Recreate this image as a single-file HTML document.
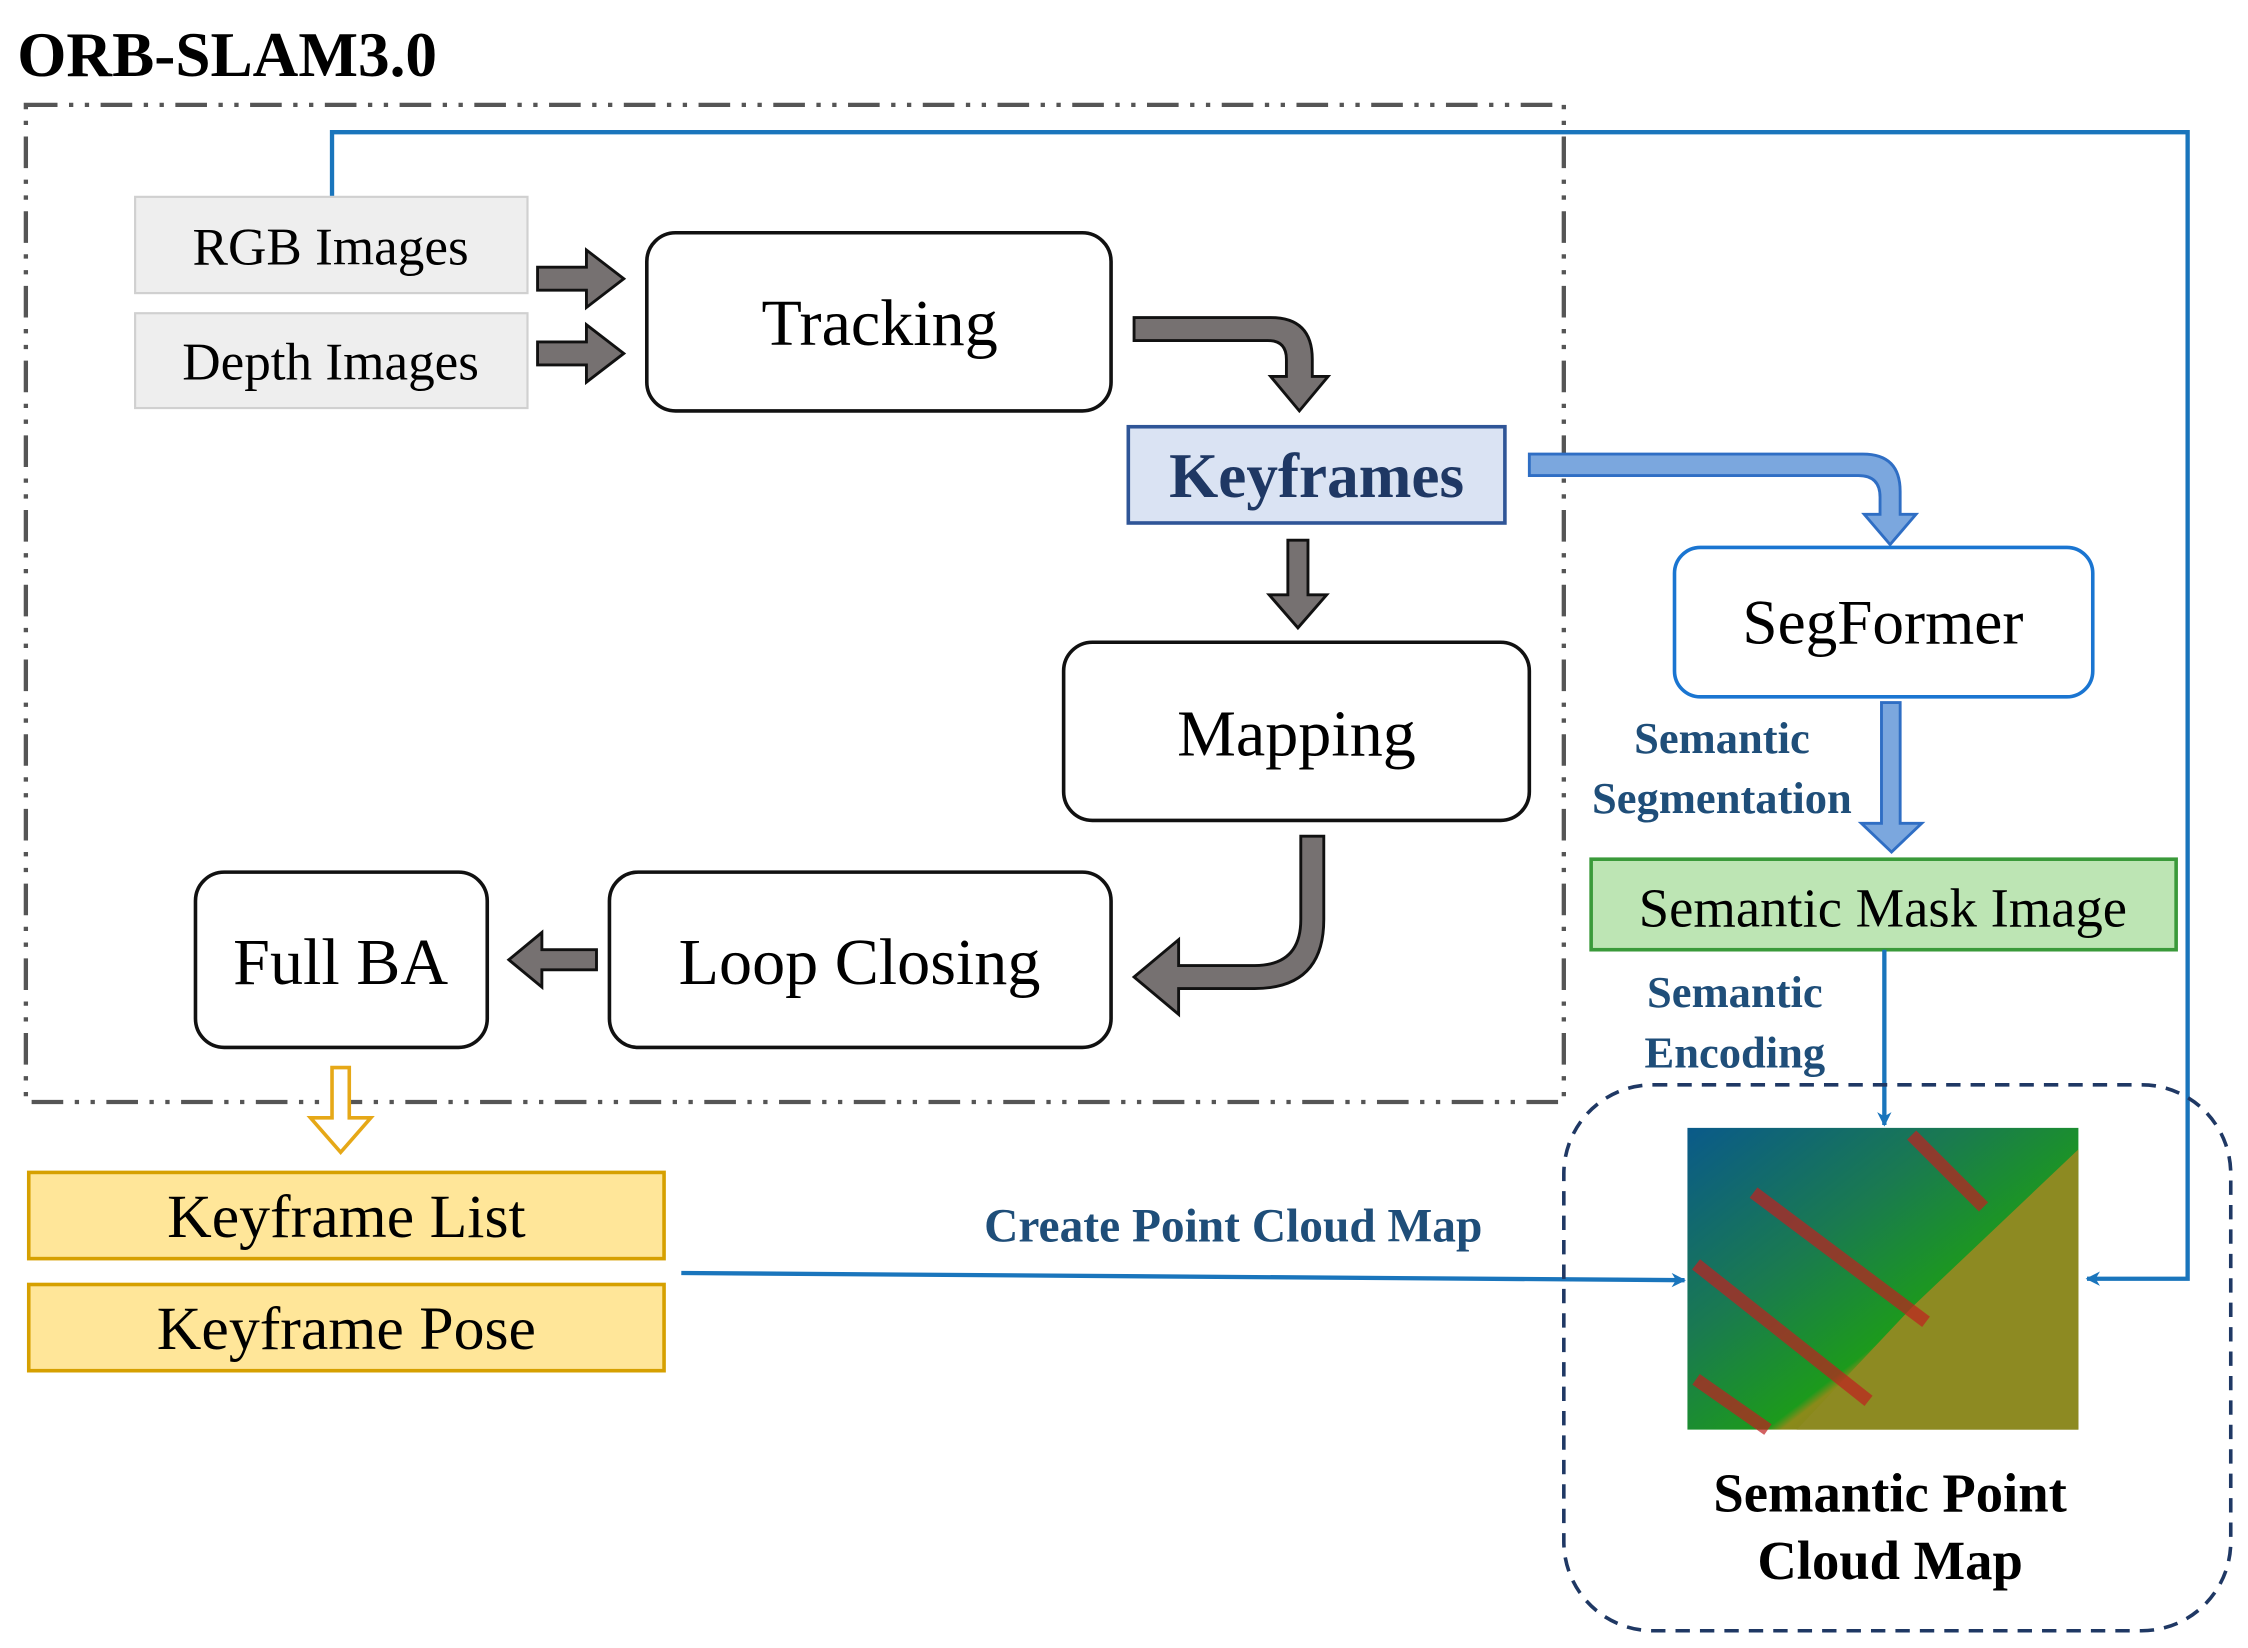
<!DOCTYPE html>
<html><head><meta charset="utf-8"><style>
html,body{margin:0;padding:0;background:#fff;}
svg{display:block;}
text{font-family:"Liberation Serif",serif;}
</style></head><body>
<svg width="2248" height="1648" viewBox="0 0 1564 1147" preserveAspectRatio="none" xmlns="http://www.w3.org/2000/svg">
<defs>
<linearGradient id="pc" x1="0" y1="0" x2="1" y2="1">
<stop offset="0" stop-color="#0a5a8a"/>
<stop offset="0.35" stop-color="#1a7a50"/>
<stop offset="0.6" stop-color="#1c9a1c"/>
<stop offset="0.62" stop-color="#8a8a1a"/>
<stop offset="1" stop-color="#6e6a10"/>
</linearGradient>
<marker id="ab" markerWidth="10" markerHeight="10" refX="9" refY="5" orient="auto" markerUnits="userSpaceOnUse"><path d="M0,0 L10,5 L0,10 L3,5 z" fill="#1a75bc"/></marker>
</defs>
<text x="12" y="53" font-size="44" font-weight="bold">ORB-SLAM3.0</text>
<rect x="18" y="73" width="1070" height="694" fill="none" stroke="#555" stroke-width="3" stroke-dasharray="22 8 3 8 3 8"/>
<polyline points="231,137 231,92 1522,92 1522,890 1452,890" fill="none" stroke="#1a75bc" stroke-width="3" marker-end="url(#ab)"/>
<rect x="94" y="137" width="273" height="67" fill="#eeeeee" stroke="#d0d0d0" stroke-width="1.5"/>
<text x="230" y="184" font-size="37" text-anchor="middle">RGB Images</text>
<rect x="94" y="218" width="273" height="66" fill="#eeeeee" stroke="#d0d0d0" stroke-width="1.5"/>
<text x="230" y="264" font-size="37" text-anchor="middle">Depth Images</text>
<path d="M374,186 h34 v-12 l26,20 l-26,20 v-12 h-34 z" fill="#767171" stroke="#111" stroke-width="2"/>
<path d="M374,238 h34 v-12 l26,20 l-26,20 v-12 h-34 z" fill="#767171" stroke="#111" stroke-width="2"/>
<rect x="450" y="162" width="323" height="124" rx="20" fill="#fff" stroke="#111" stroke-width="2.5"/>
<text x="612" y="240" font-size="46" text-anchor="middle">Tracking</text>
<path d="M789,221 h95 q29,0 29,29 v12 h11 l-20,24 l-20,-24 h11 v-12 q0,-13 -13,-13 h-93 z" fill="#767171" stroke="#111" stroke-width="2"/>
<rect x="785" y="297" width="262" height="67" fill="#dae3f3" stroke="#2f5597" stroke-width="2.5"/>
<text x="916" y="346" font-size="44" font-weight="bold" fill="#1f3864" text-anchor="middle">Keyframes</text>
<path d="M896,376 h14 v38 h13 l-20,23 l-20,-23 h13 z" fill="#767171" stroke="#111" stroke-width="2"/>
<rect x="740" y="447" width="324" height="124" rx="20" fill="#fff" stroke="#111" stroke-width="2.5"/>
<text x="902" y="526" font-size="46" text-anchor="middle">Mapping</text>
<path d="M905,582 h16 v58 q0,48 -48,48 h-53 v18 l-31,-26 l31,-26 v18 h53 q32,0 32,-32 z" fill="#767171" stroke="#111" stroke-width="2"/>
<rect x="424" y="607" width="349" height="122" rx="20" fill="#fff" stroke="#111" stroke-width="2.5"/>
<text x="598" y="685" font-size="46" text-anchor="middle">Loop Closing</text>
<rect x="136" y="607" width="203" height="122" rx="20" fill="#fff" stroke="#111" stroke-width="2.5"/>
<text x="237" y="685" font-size="46" text-anchor="middle">Full BA</text>
<path d="M415,661 h-38 v-12 l-23,19 l23,19 v-12 h38 z" fill="#767171" stroke="#111" stroke-width="2"/>
<path d="M231,743 h12 v35 h15 l-21,24 l-21,-24 h15 z" fill="#fff" stroke="#e6a817" stroke-width="2.5"/>
<rect x="20" y="816" width="442" height="60" fill="#ffe699" stroke="#d6a000" stroke-width="2.5"/>
<text x="241" y="861" font-size="43" text-anchor="middle">Keyframe List</text>
<rect x="20" y="894" width="442" height="60" fill="#ffe699" stroke="#d6a000" stroke-width="2.5"/>
<text x="241" y="939" font-size="43" text-anchor="middle">Keyframe Pose</text>
<line x1="474" y1="886" x2="1172" y2="891" stroke="#1a75bc" stroke-width="3" marker-end="url(#ab)"/>
<text x="858" y="864" font-size="33" font-weight="bold" fill="#1f4e79" text-anchor="middle">Create Point Cloud Map</text>
<path d="M1064,316 H1296 Q1322,316 1322,342 V358 H1333 L1315,379 L1297,358 H1308 V346 Q1308,331 1293,331 H1064 Z" fill="#7ba7de" stroke="#2f6ec4" stroke-width="2"/>
<rect x="1165" y="381" width="291" height="104" rx="18" fill="#fff" stroke="#1a75d1" stroke-width="2.5"/>
<text x="1310" y="448" font-size="44" text-anchor="middle">SegFormer</text>
<path d="M1309,489 h13 v84 h15 l-21,20 l-21,-20 h14 z" fill="#7ba7de" stroke="#2f6ec4" stroke-width="2"/>
<text x="1198" y="524" font-size="31" font-weight="bold" fill="#1f4e79" text-anchor="middle">Semantic</text>
<text x="1198" y="566" font-size="31" font-weight="bold" fill="#1f4e79" text-anchor="middle">Segmentation</text>
<rect x="1107" y="598" width="407" height="63" fill="#bde5b4" stroke="#3a9a3a" stroke-width="2.5"/>
<text x="1310" y="645" font-size="38" text-anchor="middle">Semantic Mask Image</text>
<line x1="1311" y1="661" x2="1311" y2="783" stroke="#1a75bc" stroke-width="3" marker-end="url(#ab)"/>
<text x="1207" y="701" font-size="31" font-weight="bold" fill="#1f4e79" text-anchor="middle">Semantic</text>
<text x="1207" y="743" font-size="31" font-weight="bold" fill="#1f4e79" text-anchor="middle">Encoding</text>
<rect x="1088" y="755" width="464" height="380" rx="62" fill="none" stroke="#1f3864" stroke-width="2.5" stroke-dasharray="10 7"/>
<rect x="1174" y="785" width="272" height="210" fill="url(#pc)"/>
<polygon points="1446,800 1446,995 1250,995 1330,910" fill="#8d8a22"/>
<g stroke="#c02020" stroke-width="9" opacity="0.7">
<line x1="1180" y1="960" x2="1230" y2="995"/>
<line x1="1180" y1="880" x2="1300" y2="975"/>
<line x1="1220" y1="830" x2="1340" y2="920"/>
<line x1="1330" y1="790" x2="1380" y2="840"/>
</g>
<text x="1315" y="1052" font-size="38" font-weight="bold" text-anchor="middle">Semantic Point</text>
<text x="1315" y="1099" font-size="38" font-weight="bold" text-anchor="middle">Cloud Map</text>
</svg>
</body></html>
